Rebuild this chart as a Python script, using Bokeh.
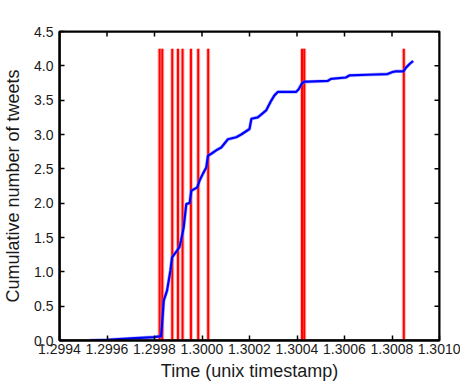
from bokeh.plotting import figure
from bokeh.models import Range1d, FixedTicker, CustomJSTickFormatter, Label
from bokeh.embed import file_html
from bokeh.resources import INLINE

# Cumulative number of tweets over time (unix timestamp, count)
curve_t = [1.299526e9, 1.299600e9, 1.299700e9, 1.299800e9, 1.299820e9, 1.299828e9, 1.299839e9,
           1.299853e9, 1.299867e9, 1.299874e9, 1.299895e9, 1.299905e9, 1.299912e9, 1.299923e9,
           1.299934e9, 1.299948e9, 1.299955e9, 1.299980e9, 1.299990e9, 1.300004e9, 1.300018e9,
           1.300025e9, 1.300039e9, 1.300060e9, 1.300081e9, 1.300109e9, 1.300144e9, 1.300165e9,
           1.300200e9, 1.300208e9, 1.300235e9, 1.300270e9, 1.300291e9, 1.300305e9, 1.300319e9,
           1.300361e9, 1.300396e9, 1.300407e9, 1.300420e9, 1.300431e9, 1.300445e9, 1.300529e9,
           1.300543e9, 1.300606e9, 1.300620e9, 1.300697e9, 1.300781e9, 1.300802e9, 1.300816e9,
           1.300848e9, 1.300858e9, 1.300875e9, 1.300889e9]
curve_n = [0.000e5, 0.010e5, 0.030e5, 0.050e5, 0.060e5, 0.060e5, 0.580e5,
           0.730e5, 1.020e5, 1.210e5, 1.310e5, 1.360e5, 1.460e5, 1.650e5,
           1.990e5, 2.000e5, 2.180e5, 2.230e5, 2.330e5, 2.430e5, 2.520e5,
           2.690e5, 2.720e5, 2.770e5, 2.810e5, 2.930e5, 2.960e5, 3.000e5,
           3.080e5, 3.230e5, 3.250e5, 3.350e5, 3.490e5, 3.570e5, 3.620e5,
           3.620e5, 3.620e5, 3.660e5, 3.740e5, 3.770e5, 3.770e5, 3.780e5,
           3.810e5, 3.830e5, 3.860e5, 3.870e5, 3.880e5, 3.910e5, 3.920e5,
           3.920e5, 3.970e5, 4.030e5, 4.070e5]

# Event markers (unix timestamps)
events_t = [1.2998215e9, 1.2998328e9, 1.2998748e9, 1.2998988e9, 1.2999181e9,
            1.2999534e9, 1.2999841e9, 1.3000261e9, 1.3004211e9, 1.3004307e9,
            1.3008497e9]
event_top = [4.25e5] * len(events_t)
event_bottom = [0.0] * len(events_t)

x_ticks = [1.2994e9, 1.2996e9, 1.2998e9, 1.3000e9, 1.3002e9, 1.3004e9, 1.3006e9, 1.3008e9, 1.3010e9]
y_ticks = [0, 0.5e5, 1.0e5, 1.5e5, 2.0e5, 2.5e5, 3.0e5, 3.5e5, 4.0e5, 4.5e5]
x_lim = (1.2994e9, 1.3010e9)
y_lim = (0.0, 4.5e5)

x_title = "Time (unix timestamp)"
y_title = "Cumulative number of tweets"
x_exp = "×10⁹"
y_exp = "×10⁵"

FONT = "Liberation Sans"
TXT = "#1a1a1a"

W, H = 460, 384
BL, BR, BT, BB = 58, 21, 31, 44
FW, FH = W - BL - BR, H - BT - BB
TICK = 5  # px

p = figure(width=W, height=H, output_backend="svg", toolbar_location=None,
           x_range=Range1d(*x_lim), y_range=Range1d(*y_lim),
           min_border_left=BL, min_border_right=BR, min_border_top=BT, min_border_bottom=BB)
p.background_fill_color = "white"
p.border_fill_color = "white"
p.outline_line_color = "black"
p.outline_line_width = 2
p.grid.visible = False

# event lines: soft halo + crisp red core
p.segment(x0=events_t, y0=event_bottom, x1=events_t, y1=event_top,
          line_color="#ff8080", line_width=4, line_alpha=0.55)
p.segment(x0=events_t, y0=event_bottom, x1=events_t, y1=event_top,
          line_color="#ff0000", line_width=2)

p.line(curve_t, curve_n, line_color="#7070ff", line_width=3.5, line_alpha=0.5)
p.line(curve_t, curve_n, line_color="#0000ff", line_width=2.2)

# box and inward ticks on the top and right edges (mirrors of the bottom/left axes)
p.quad(left=[x_lim[0]], right=[x_lim[1]], bottom=[y_lim[0]], top=[y_lim[1]],
       fill_color=None, line_color="black", line_width=2)
ty = TICK * (y_lim[1] - y_lim[0]) / FH
tx = TICK * (x_lim[1] - x_lim[0]) / FW
p.segment(x0=x_ticks, y0=[y_lim[1]] * len(x_ticks), x1=x_ticks, y1=[y_lim[1] - ty] * len(x_ticks),
          line_color="black", line_width=1.5)
p.segment(x0=[x_lim[1]] * len(y_ticks), y0=y_ticks, x1=[x_lim[1] - tx] * len(y_ticks), y1=y_ticks,
          line_color="black", line_width=1.5)

xfmt = CustomJSTickFormatter(code="return (tick/1e9).toFixed(4);")
yfmt = CustomJSTickFormatter(code="return (tick/1e5).toFixed(1);")

def style(ax):
    ax.major_tick_in = TICK
    ax.major_tick_out = 0
    ax.minor_tick_in = 0
    ax.minor_tick_out = 0
    ax.axis_line_width = 2
    ax.major_tick_line_width = 1.5
    ax.major_label_text_font = FONT
    ax.major_label_text_font_size = "14px"
    ax.major_label_text_color = TXT
    ax.axis_label_text_font = FONT
    ax.axis_label_text_font_size = "18px"
    ax.axis_label_text_font_style = "normal"
    ax.axis_label_text_color = TXT

xa = p.xaxis[0]
xa.ticker = FixedTicker(ticks=x_ticks)
xa.formatter = xfmt
xa.axis_label = x_title
xa.axis_label_standoff = 4
xa.major_label_standoff = 3
style(xa)

ya = p.yaxis[0]
ya.ticker = FixedTicker(ticks=y_ticks)
ya.formatter = yfmt
ya.axis_label = y_title
ya.axis_label_standoff = 8
ya.major_label_standoff = 6
style(ya)

# exponent markers (screen units relative to the plot frame)
p.add_layout(Label(x=-10, y=FH + 9, x_units="screen", y_units="screen", text=y_exp,
                   text_font=FONT, text_font_size="14px", text_color=TXT))
p.add_layout(Label(x=FW - 8, y=-BB, x_units="screen", y_units="screen", text=x_exp,
                   text_font=FONT, text_font_size="14px", text_color=TXT))

open("out.html", "w").write(file_html(p, INLINE))
